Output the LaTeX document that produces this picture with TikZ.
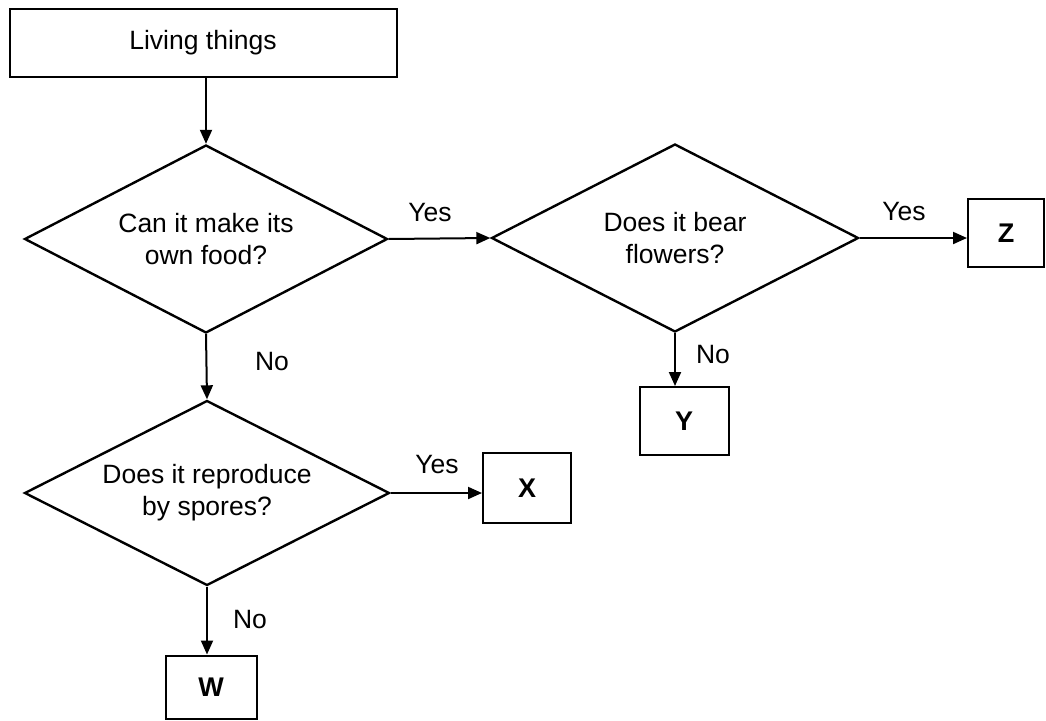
\documentclass[tikz,border=0pt]{standalone}
\usepackage{fontspec}
\setmainfont{Liberation Sans}
\usetikzlibrary{shapes.geometric,arrows.meta}
\begin{document}
\begin{tikzpicture}[x=1pt,y=-1pt,
  txt/.style={font=\fontsize{26.5}{32}\selectfont},
  box/.style={draw, line width=2pt, inner sep=0pt, txt},
  dia/.style={draw, diamond, aspect=2, line width=2.4pt, inner sep=0pt, align=center, txt},
  lbl/.style={txt},
  letter/.style={box, font=\fontsize{27}{30}\selectfont\bfseries},
  arr/.style={line width=2pt, -{Triangle[length=14pt,width=12pt]}}
]
\useasboundingbox (0,0) rectangle (1046,720);

\node[box, minimum width=387pt, minimum height=68pt] (top) at (203,43) {Living things};

\node[dia, minimum width=363pt, minimum height=188pt] (d1) at (206,239) {Can it make its\\own food?};
\node[dia, minimum width=367pt, minimum height=188pt] (d2) at (675,238) {Does it bear\\flowers?};
\node[dia, minimum width=365pt, minimum height=185pt] (d3) at (207,493) {Does it reproduce\\by spores?};

\node[letter, minimum width=76pt, minimum height=68pt] (z) at (1006,233) {Z};
\node[letter, minimum width=89pt, minimum height=68pt] (y) at (684,421) {Y};
\node[letter, minimum width=88pt, minimum height=70pt] (x) at (527,488) {X};
\node[letter, minimum width=91pt, minimum height=63pt] (w) at (211,687) {W};

\draw[arr] (d1.north |- top.south) -- (d1.north);
\draw[arr] (d1.east) -- (d2.west);
\draw[arr] (d2.east) -- (d2.east -| z.west);
\draw[arr] (d2.south) -- (d2.south |- y.north);
\draw[arr] (d1.south) -- (d3.north);
\draw[arr] (d3.east) -- (d3.east -| x.west);
\draw[arr] (d3.south) -- (d3.south |- w.north);

\node[lbl] (yes1) at (430,213) {Yes};
\node[lbl] (yes2) at (904,212) {Yes};
\node[lbl] (yes3) at (437,465) {Yes};
\node[lbl] (no1) at (272,362) {No};
\node[lbl] (no2) at (713,355) {No};
\node[lbl] (no3) at (250,620) {No};
\end{tikzpicture}
\end{document}
